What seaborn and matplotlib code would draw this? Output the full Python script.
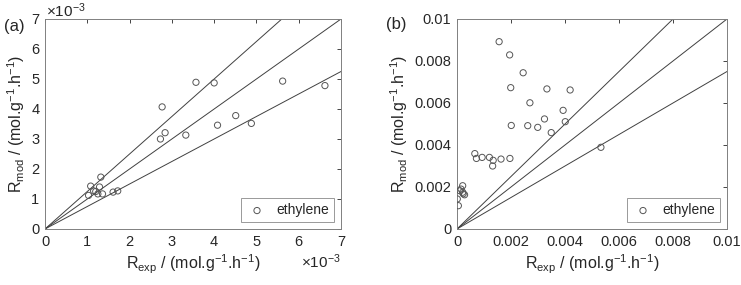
import matplotlib
matplotlib.use('Agg')
import matplotlib.pyplot as plt
import seaborn as sns
import numpy as np
import pandas as pd

sns.set_style('white')
plt.rcParams['font.family'] = ['Liberation Sans', 'DejaVu Sans']
plt.rcParams['mathtext.fontset'] = 'custom'
plt.rcParams['mathtext.rm'] = 'Liberation Sans'
plt.rcParams['mathtext.it'] = 'Liberation Sans'

# panel (a) values, in units of 1e-3 mol.g-1.h-1
a_exp = [1.03, 1.08, 1.15, 1.20, 1.25, 1.29, 1.32, 1.36, 1.61, 1.72,
         2.73, 2.77, 2.84, 3.33, 3.57, 4.00, 4.08, 4.51, 4.88, 5.62, 6.62]
a_mod = [1.12, 1.43, 1.27, 1.25, 1.17, 1.40, 1.73, 1.17, 1.23, 1.27,
         3.00, 4.07, 3.21, 3.13, 4.89, 4.87, 3.46, 3.78, 3.52, 4.93, 4.78]

# panel (b) values, mol.g-1.h-1
b_exp = [0.00156, 0.00195, 0.00245, 0.00199, 0.00333, 0.00419, 0.00270, 0.00393,
         0.00324, 0.00401, 0.00201, 0.00262, 0.00299, 0.00349,
         0.00066, 0.00072, 0.00093, 0.00120, 0.00134, 0.00132, 0.00163, 0.00196,
         0.00021, 0.00015, 0.00011, 0.00021, 0.00028, 0.00023, 0.00001, 0.00005,
         0.00533]
b_mod = [0.00892, 0.00829, 0.00744, 0.00673, 0.00667, 0.00662, 0.00601, 0.00565,
         0.00524, 0.00511, 0.00493, 0.00492, 0.00484, 0.00459,
         0.00359, 0.00336, 0.00341, 0.00341, 0.00327, 0.00300, 0.00333, 0.00336,
         0.00206, 0.00190, 0.00182, 0.00175, 0.00163, 0.00168, 0.00143, 0.00111,
         0.00389]

# parity lines: slopes
slopes = [1.25, 1.0, 0.75]

df_a = pd.DataFrame({'exp': a_exp, 'mod': a_mod})
df_b = pd.DataFrame({'exp': b_exp, 'mod': b_mod})

fig = plt.figure(figsize=(7.41, 2.85), dpi=100)
ax1 = fig.add_axes([45 / 741, 56 / 285, 296 / 741, 210 / 285])
ax2 = fig.add_axes([457 / 741, 56 / 285, 270 / 741, 210 / 285])

xlabel = r'$\mathregular{R_{exp}}$ / (mol.g$\mathregular{^{-1}}$.h$\mathregular{^{-1}}$)'
ylabel = r'$\mathregular{R_{mod}}$ / (mol.g$\mathregular{^{-1}}$.h$\mathregular{^{-1}}$)'


def style(ax, lim, ticks, ticklabels):
    ax.set_xlim(0, lim)
    ax.set_ylim(0, lim)
    ax.set_xticks(ticks)
    ax.set_yticks(ticks)
    ax.set_xticklabels(ticklabels)
    ax.set_yticklabels(ticklabels)
    ax.tick_params(direction='in', length=3, width=0.6, top=True, right=True,
                   labelsize=10.5, colors='#262626', pad=4)
    for s in ax.spines.values():
        s.set_color('#808080')
        s.set_linewidth(0.7)
    ax.set_xlabel(xlabel, fontsize=11.5, color='#262626', labelpad=3)
    ax.set_ylabel(ylabel, fontsize=11.5, color='#262626', labelpad=3)


for ax, df, lim in [(ax1, df_a, 7), (ax2, df_b, 0.01)]:
    xs = np.array([0, lim])
    for k in slopes:
        sns.lineplot(x=xs, y=k * xs, ax=ax, color='#404040', linewidth=0.7)
    sns.scatterplot(data=df, x='exp', y='mod', ax=ax, marker='o', s=20,
                    facecolor='none', edgecolor='#555555', linewidth=0.7,
                    label='ethylene', zorder=3)
    leg = ax.legend(loc='lower right', fontsize=10, frameon=True, fancybox=False,
                    handletextpad=0.6, borderpad=0.35, handlelength=1.6,
                    borderaxespad=0.5)
    leg.get_frame().set_edgecolor('#808080')
    leg.get_frame().set_linewidth(0.7)

style(ax1, 7, np.arange(0, 8), [str(i) for i in range(8)])
style(ax2, 0.01, np.arange(0, 0.0101, 0.002),
      ['0', '0.002', '0.004', '0.006', '0.008', '0.01'])

fig.text(46 / 741, 1 - 11 / 285, r'$\mathregular{\times10^{-3}}$',
         fontsize=11, color='#262626', ha='left', va='center')
fig.text(341 / 741, 1 - 262 / 285, r'$\mathregular{\times10^{-3}}$',
         fontsize=11, color='#262626', ha='right', va='center')

fig.text(4 / 741, 1 - 27 / 285, '(a)', fontsize=12, color='#262626', va='center')
fig.text(386 / 741, 1 - 24 / 285, '(b)', fontsize=12, color='#262626', va='center')

fig.savefig('out.png', dpi=100)
